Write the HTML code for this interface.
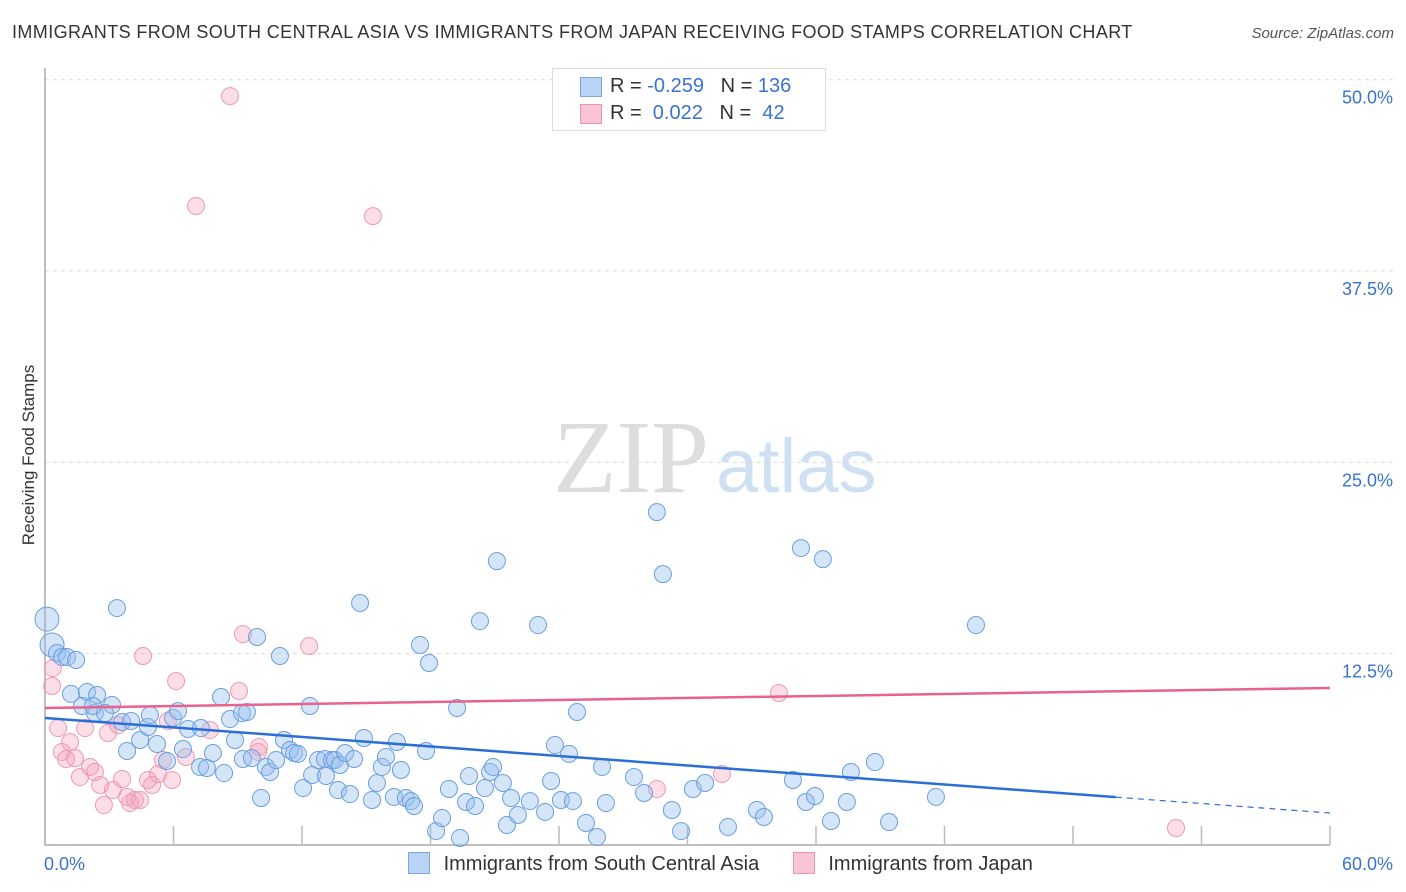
<!DOCTYPE html>
<html><head><meta charset="utf-8">
<style>
body{margin:0;background:#fff;font-family:"Liberation Sans",sans-serif;}
#wrap{position:relative;width:1406px;height:892px;overflow:hidden;}
.t{position:absolute;white-space:nowrap;}
</style></head>
<body>
<div id="wrap">
<div class="t" style="left:12px;top:22px;font-size:18px;color:#333;letter-spacing:0.4px;">IMMIGRANTS FROM SOUTH CENTRAL ASIA VS IMMIGRANTS FROM JAPAN RECEIVING FOOD STAMPS CORRELATION CHART</div>
<div class="t" style="right:12px;top:25px;font-size:15px;color:#555;font-style:italic;">Source: ZipAtlas.com</div>
<svg id="svg" width="1406" height="892" style="position:absolute;left:0;top:0">
<text x="553" y="492" font-family="Liberation Serif" font-size="104" fill="#ddd">ZIP</text>
<text x="716" y="492" font-family="Liberation Sans" font-size="76" fill="#cfe0f3">atlas</text>
<text x="0" y="0" transform="translate(34,455) rotate(-90)" text-anchor="middle" font-family="Liberation Sans" font-size="17" fill="#333">Receiving Food Stamps</text>
<g id="grid"></g><g id="pts"></g><g id="lines"></g>
</svg>
<div style="position:absolute;left:552px;top:68px;width:272px;height:61px;border:1px solid #ddd;background:#fff;font-size:20px;">
<div style="position:absolute;left:27px;top:8px;width:20px;height:18px;background:#b9d4f5;border:1px solid #7aa7e0"></div>
<div style="position:absolute;left:27px;top:35px;width:20px;height:18px;background:#f9c4d3;border:1px solid #ec94ae"></div>
<div class="t" style="left:57px;top:6px;color:#333">R = <span style="color:#3a72d0">-0.259</span>&nbsp;&nbsp;&nbsp;N = <span style="color:#3a72d0">136</span></div>
<div class="t" style="left:57px;top:33px;color:#333">R = &nbsp;<span style="color:#3a72d0">0.022</span>&nbsp;&nbsp;&nbsp;N = &nbsp;<span style="color:#3a72d0">42</span></div>
</div>
<div style="position:absolute;top:852px;left:408px;font-size:20px;color:#333;">
<span style="display:inline-block;width:20px;height:20px;background:#b9d4f5;border:1px solid #7aa7e0;vertical-align:-4px"></span>
<span style="margin-left:8px">Immigrants from South Central Asia</span>
<span style="display:inline-block;width:20px;height:20px;background:#f9c4d3;border:1px solid #ec94ae;vertical-align:-4px;margin-left:28px"></span>
<span style="margin-left:8px">Immigrants from Japan</span>
</div>
</div>
<script>
const blueX=[0.09,0.33,0.56,0.79,1.03,1.45,1.21,1.96,2.43,3.36,1.73,2.33,3.13,2.80,2.24,3.60,4.02,4.44,4.81,3.83,5.23,4.90,5.70,5.98,6.21,6.44,6.68,7.28,7.24,7.56,7.84,8.22,8.64,8.87,8.36,9.20,9.43,9.24,9.66,9.90,10.09,10.32,10.51,10.79,10.97,11.16,11.44,11.63,11.81,12.37,12.05,12.47,12.75,13.12,13.07,13.40,13.68,13.54,13.77,14.01,14.24,14.43,14.71,14.89,15.27,15.50,15.73,15.92,16.29,16.43,16.62,16.85,17.09,17.23,17.51,17.79,17.93,18.26,18.54,18.86,19.24,19.38,19.66,19.80,20.08,20.31,20.54,20.78,20.92,21.10,21.38,21.57,21.76,22.08,22.64,23.02,23.35,23.63,23.81,24.09,24.47,24.65,24.84,25.26,25.77,26.01,26.19,27.50,27.97,28.57,28.85,29.27,29.70,30.25,30.82,31.89,33.24,33.57,34.92,35.30,35.53,35.95,36.32,36.70,37.44,37.63,38.75,39.41,41.60,43.47];
const blueY=[14.76,13.07,12.54,12.28,12.28,12.09,9.87,10.0,9.80,15.48,9.08,8.62,9.15,8.62,9.08,8.04,8.10,6.86,7.71,6.14,6.60,8.49,5.49,8.30,8.75,6.27,7.58,7.64,5.10,5.03,6.01,9.67,8.23,6.86,4.70,8.62,8.69,5.62,5.68,13.59,3.07,5.10,4.77,5.55,12.35,6.86,6.21,6.01,5.95,9.08,3.72,4.57,5.55,4.51,5.62,5.55,3.59,5.55,5.23,6.01,3.33,5.62,15.81,6.99,2.94,4.05,5.10,5.75,3.14,6.73,4.90,3.07,2.87,2.55,13.07,6.14,11.89,0.91,1.76,3.66,8.95,0.46,2.81,4.51,2.55,14.63,3.72,4.77,5.10,18.55,4.05,1.31,3.07,1.96,2.87,14.37,2.16,4.18,6.53,2.94,5.95,2.87,8.69,1.44,0.52,5.10,2.74,4.44,3.40,21.75,17.70,2.29,0.91,3.66,4.05,1.18,2.29,1.83,4.25,19.40,2.81,3.20,18.68,1.57,2.81,4.77,5.42,1.50,3.14,14.37];
const pinkX=[8.64,7.05,15.31,0.33,0.37,0.61,0.79,0.98,1.17,1.40,1.63,1.87,2.10,2.33,2.57,2.75,2.94,3.17,3.41,3.60,3.83,3.97,4.20,4.44,4.58,4.81,5.00,5.28,5.51,5.74,5.93,6.12,6.58,7.70,9.24,9.06,9.99,9.95,12.33,28.57,31.61,34.27,52.81];
const pinkY=[48.93,41.75,41.09,10.39,11.56,7.64,6.08,5.62,6.73,5.68,4.44,7.64,5.10,4.77,3.92,2.61,7.32,3.59,7.84,4.31,3.14,2.74,2.94,2.94,12.35,4.25,3.92,4.64,5.55,8.10,4.25,10.71,5.75,7.51,13.78,10.06,6.40,6.08,13.00,3.66,4.64,9.93,1.11];
const blueTrend=[8.30,2.09];
const blueSolidEnd=50;
const pinkTrend=[8.95,10.26];
const yTicks=[12.5,25,37.5,50];
const yTickLabels=["12.5%","25.0%","37.5%","50.0%"];
const xLabels=["0.0%","60.0%"];
const X0=45,X1=1330,Y0=845,PXY=15.306;
const sx=v=>X0+(v/60)*(X1-X0);
const sy=v=>Y0-v*PXY;
const NS="http://www.w3.org/2000/svg";
function mk(tag,attrs,parent){const e=document.createElementNS(NS,tag);for(const k in attrs)e.setAttribute(k,attrs[k]);parent.appendChild(e);return e;}
const grid=document.getElementById('grid'),pts=document.getElementById('pts'),lines=document.getElementById('lines');
yTicks.forEach((t,i)=>{
 const l=mk('line',{x1:X0,x2:1395,y1:sy(t),y2:sy(t),stroke:'#ddd','stroke-dasharray':'4,4'},grid);
 
 
 const tx=mk('text',{x:1393,y:sy(t)+24,'text-anchor':'end','font-size':18,fill:'#3a72d0','font-family':'Liberation Sans'},grid);
 tx.textContent=yTickLabels[i];
 
 
});
const ax=mk('path',{d:`M${X0} 68 V${Y0} H${X1}`,stroke:'#aaa','stroke-width':1.5,fill:'none'},grid);


for(let i=1;i<=10;i++){const x=X0+i*(X1-X0)/10;const tk=mk('line',{x1:x,x2:x,y1:826,y2:Y0,stroke:'#bbb','stroke-width':1.5},grid);
 
 }
[[44,'start'],[1393,'end']].forEach((p,i)=>{const tx=mk('text',{x:p[0],y:870,'text-anchor':p[1],'font-size':18,fill:'#3a72d0','font-family':'Liberation Sans'},grid);tx.textContent=xLabels[i];
 
 });
pinkX.forEach((x,i)=>{const c=mk('circle',{cx:sx(x),cy:sy(pinkY[i]),r:8.5,fill:'rgba(244,160,185,0.35)',stroke:'#ee9ab2','stroke-width':1},pts);
 
 });
blueX.forEach((x,i)=>{const c=mk('circle',{cx:sx(x),cy:sy(blueY[i]),r:i<2?12:8.5,fill:'rgba(150,190,238,0.4)',stroke:'#6a9ee0','stroke-width':1},pts);
 
 });
const by=x=>blueTrend[0]+(blueTrend[1]-blueTrend[0])*x/60;
const b1=mk('line',{x1:sx(0),y1:sy(by(0)),x2:sx(blueSolidEnd),y2:sy(by(blueSolidEnd)),stroke:'#2b6fd6','stroke-width':2.5},lines);


const b2=mk('line',{x1:sx(blueSolidEnd),y1:sy(by(blueSolidEnd)),x2:sx(60),y2:sy(by(60)),stroke:'#2b6fd6','stroke-width':1.2,'stroke-dasharray':'6,5'},lines);


const p1=mk('line',{x1:sx(0),y1:sy(pinkTrend[0]),x2:sx(60),y2:sy(pinkTrend[1]),stroke:'#e8628d','stroke-width':2.5},lines);


</script>
</body></html>
